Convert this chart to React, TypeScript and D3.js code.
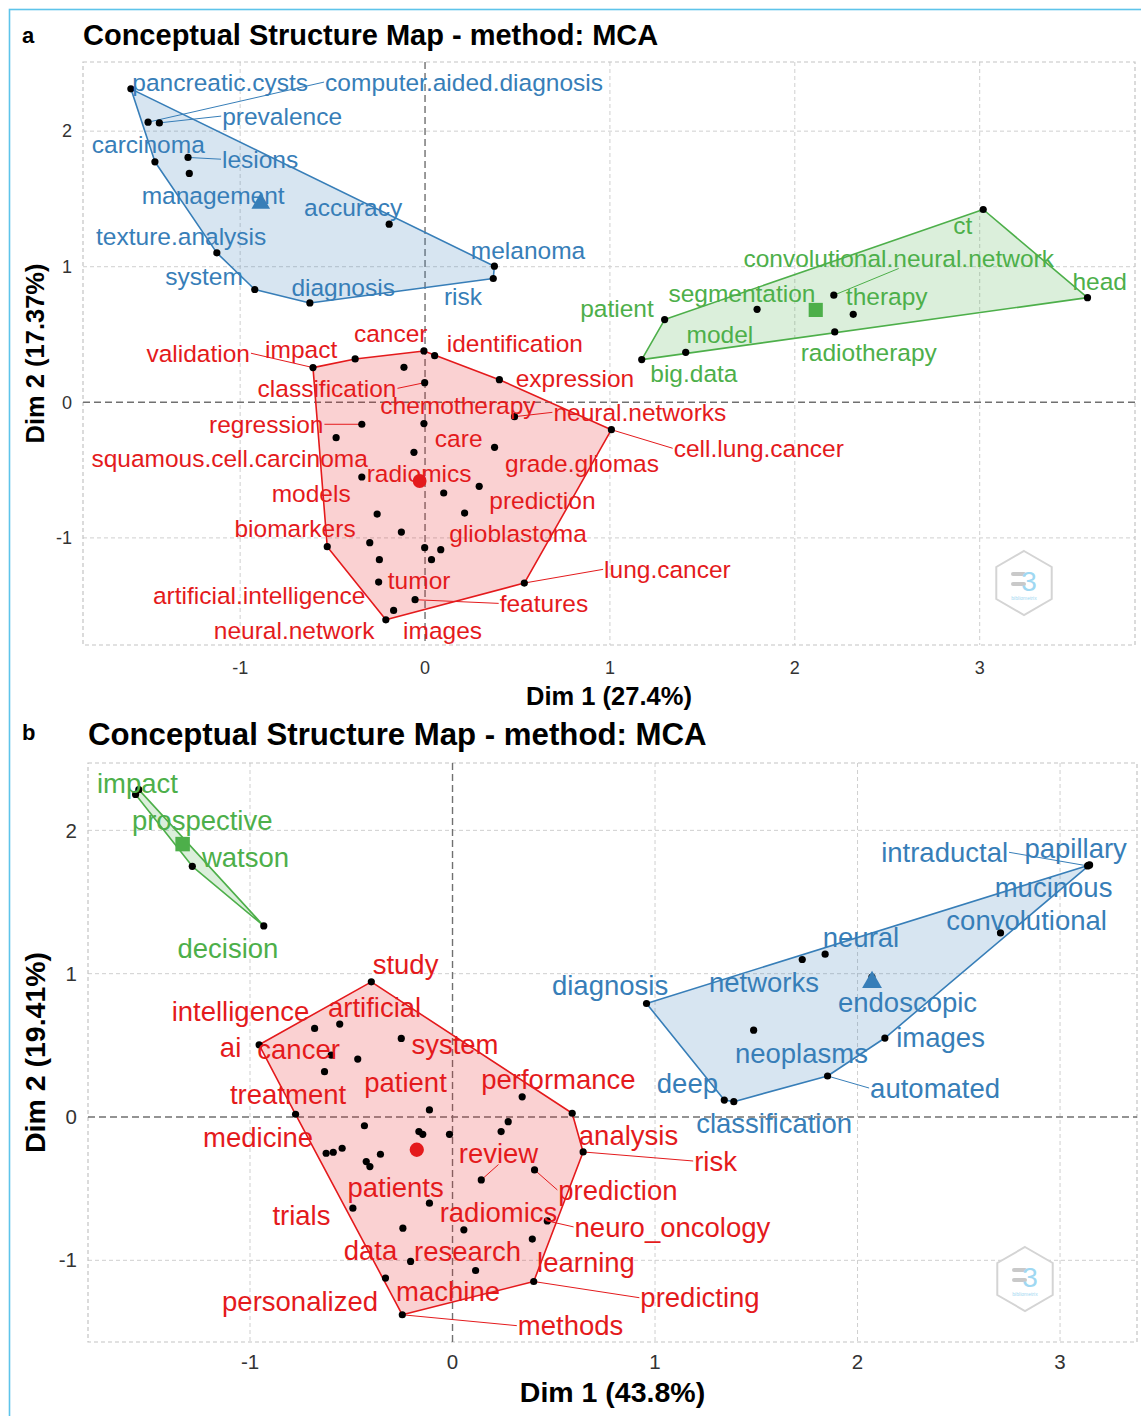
import React from 'react';
import * as d3 from 'd3';

type Row = [string | null, number, number, number | null, number | null];

// ---------- Panel a (Dim 1 27.4%, Dim 2 17.37%) ----------
// [word, dim1, dim2, labelDim1, labelDim2]
const aBlue: Row[] = [
  ['pancreatic.cysts', -1.591, 2.312, -1.108, 2.362],
  ['computer.aided.diagnosis', -1.498, 2.066, 0.211, 2.362],
  ['prevalence', -1.437, 2.061, -0.773, 2.111],
  ['carcinoma', -1.461, 1.774, -1.497, 1.904],
  ['lesions', -1.282, 1.806, -0.892, 1.793],
  ['management', -1.275, 1.688, -1.146, 1.528],
  ['accuracy', -0.194, 1.314, -0.389, 1.439],
  ['texture.analysis', -1.126, 1.102, -1.319, 1.225],
  ['system', -0.921, 0.832, -1.195, 0.93],
  ['diagnosis', -0.623, 0.733, -0.443, 0.849],
  ['melanoma', 0.375, 1.004, 0.557, 1.122],
  ['risk', 0.369, 0.913, 0.205, 0.782],
];

const aGreen: Row[] = [
  ['ct', 3.019, 1.422, 2.908, 1.306],
  ['head', 3.583, 0.772, 3.649, 0.893],
  ['patient', 1.296, 0.61, 1.038, 0.694],
  ['big.data', 1.172, 0.315, 1.454, 0.214],
  ['model', 1.41, 0.369, 1.595, 0.502],
  ['segmentation', 1.796, 0.686, 1.714, 0.804],
  ['convolutional.neural.network', 2.211, 0.79, 2.562, 1.063],
  ['therapy', 2.316, 0.649, 2.497, 0.782],
  ['radiotherapy', 2.216, 0.519, 2.4, 0.369],
];

const aRed: Row[] = [
  ['validation', -0.606, 0.256, -1.227, 0.362],
  ['impact', -0.378, 0.32, -0.67, 0.391],
  ['cancer', -0.006, 0.379, -0.186, 0.509],
  ['identification', 0.052, 0.344, 0.486, 0.435],
  [null, -0.114, 0.258, null, null],
  ['classification', -0.002, 0.145, -0.53, 0.103],
  ['expression', 0.402, 0.167, 0.811, 0.177],
  ['neural.networks', 0.484, -0.106, 1.162, -0.074],
  ['chemotherapy', -0.006, -0.157, 0.178, -0.022],
  ['cell.lung.cancer', 1.008, -0.202, 1.805, -0.339],
  ['regression', -0.342, -0.162, -0.859, -0.162],
  ['squamous.cell.carcinoma', -0.481, -0.261, -1.057, -0.413],
  ['care', -0.06, -0.369, 0.182, -0.266],
  ['grade.gliomas', 0.376, -0.332, 0.849, -0.45],
  ['models', -0.342, -0.551, -0.616, -0.672],
  ['radiomics', 0.101, -0.669, -0.032, -0.524],
  ['prediction', 0.293, -0.62, 0.635, -0.723],
  [null, -0.259, -0.824, null, null],
  ['glioblastoma', 0.214, -0.817, 0.503, -0.967],
  [null, -0.128, -0.957, null, null],
  ['biomarkers', -0.529, -1.065, -0.703, -0.93],
  [null, -0.299, -1.035, null, null],
  [null, -0.002, -1.072, null, null],
  [null, 0.085, -1.087, null, null],
  [null, 0.035, -1.161, null, null],
  ['tumor', -0.247, -1.161, -0.032, -1.314],
  ['artificial.intelligence', -0.251, -1.326, -0.897, -1.424],
  ['features', -0.054, -1.456, 0.643, -1.483],
  ['lung.cancer', 0.537, -1.333, 1.311, -1.232],
  ['images', -0.17, -1.535, 0.095, -1.683],
  ['neural.network', -0.212, -1.604, -0.708, -1.683],
];

const aLeaders = [
  'computer.aided.diagnosis', 'prevalence', 'lesions', 'convolutional.neural.network',
  'validation', 'classification', 'neural.networks', 'cell.lung.cancer', 'regression',
  'lung.cancer', 'features',
];

// ---------- Panel b (Dim 1 43.8%, Dim 2 19.41%) ----------
const bGreen: Row[] = [
  ['impact', -1.549, 2.284, -1.556, 2.328],
  ['prospective', -1.565, 2.251, -1.236, 2.07],
  ['watson', -1.285, 1.749, -1.022, 1.812],
  ['decision', -0.932, 1.333, -1.109, 1.178],
];

const bBlue: Row[] = [
  ['intraductal', 3.136, 1.752, 2.43, 1.847],
  ['papillary', 3.141, 1.756, 3.077, 1.875],
  ['mucinous', 3.146, 1.759, 2.968, 1.603],
  ['convolutional', 2.706, 1.284, 2.835, 1.373],
  ['neural', 1.84, 1.136, 2.017, 1.254],
  ['networks', 1.727, 1.099, 1.538, 0.941],
  ['endoscopic', 2.071, 0.976, 2.247, 0.801],
  ['diagnosis', 0.958, 0.792, 0.778, 0.92],
  ['neoplasms', 1.487, 0.606, 1.723, 0.446],
  ['images', 2.135, 0.551, 2.41, 0.557],
  ['automated', 1.852, 0.286, 2.383, 0.202],
  ['deep', 1.342, 0.118, 1.16, 0.237],
  ['classification', 1.389, 0.107, 1.588, -0.042],
];

const bRed: Row[] = [
  ['study', -0.401, 0.943, -0.232, 1.066],
  ['artificial', -0.557, 0.648, -0.385, 0.767],
  ['intelligence', -0.681, 0.618, -1.047, 0.739],
  ['ai', -0.955, 0.504, -1.096, 0.488],
  ['cancer', -0.599, 0.432, -0.76, 0.474],
  ['patient', -0.468, 0.404, -0.232, 0.244],
  ['system', -0.253, 0.548, 0.012, 0.509],
  ['treatment', -0.632, 0.316, -0.812, 0.16],
  ['medicine', -0.775, 0.019, -0.96, -0.139],
  [null, -0.114, 0.049, null, null],
  ['performance', 0.344, 0.141, 0.523, 0.265],
  ['analysis', 0.591, 0.026, 0.869, -0.125],
  [null, 0.275, -0.033, null, null],
  [null, 0.24, -0.102, null, null],
  [null, -0.435, -0.061, null, null],
  [null, -0.166, -0.102, null, null],
  [null, -0.147, -0.121, null, null],
  [null, -0.015, -0.121, null, null],
  ['risk', 0.645, -0.244, 1.299, -0.307],
  [null, -0.545, -0.218, null, null],
  [null, -0.589, -0.246, null, null],
  [null, -0.624, -0.253, null, null],
  [null, -0.356, -0.26, null, null],
  [null, -0.426, -0.311, null, null],
  [null, -0.408, -0.346, null, null],
  ['review', 0.142, -0.439, 0.227, -0.251],
  ['prediction', 0.405, -0.369, 0.817, -0.509],
  ['patients', -0.114, -0.601, -0.281, -0.488],
  ['trials', -0.492, -0.636, -0.746, -0.683],
  ['neuro_oncology', 0.468, -0.725, 1.086, -0.767],
  ['data', -0.245, -0.776, -0.405, -0.934],
  ['radiomics', 0.056, -0.787, 0.227, -0.669],
  ['learning', 0.394, -0.852, 0.659, -1.017],
  ['machine', -0.207, -1.008, -0.022, -1.22],
  ['research', 0.114, -1.071, 0.074, -0.941],
  ['personalized', -0.331, -1.124, -0.753, -1.289],
  ['predicting', 0.401, -1.148, 1.222, -1.261],
  ['methods', -0.248, -1.38, 0.583, -1.456],
];

const bLeaders = ['intraductal', 'automated', 'risk', 'review', 'prediction', 'neuro_oncology', 'predicting', 'methods'];

const xTicks = [-1, 0, 1, 2, 3];
const yTicks = [-1, 0, 1, 2];

const RED = '#E41A1C';
const BLUE = '#377EB8';
const GREEN = '#4DAF4A';
const FONT = '"Liberation Sans", Arial, Helvetica, sans-serif';

let _ctx: CanvasRenderingContext2D | null = null;
function measure(text: string, size: number, weight = 'normal') {
  if (!_ctx) _ctx = document.createElement('canvas').getContext('2d');
  if (!_ctx) return text.length * size * 0.5;
  _ctx.font = `${weight} ${size}px ${FONT}`;
  return _ctx.measureText(text).width;
}

type Cluster = { rows: Row[]; color: string; shape: d3.SymbolType; shapeSize: number };

type Cfg = {
  tag: string; tagY: number;
  title: string; titleX: number; titleY: number; titleSize: number;
  x0: number; x1: number; y0: number; y1: number;
  xDomain: [number, number]; yDomain: [number, number];
  tickSize: number; xTickY: number; yTickX: number;
  xTitle: string; xTitleY: number; yTitle: string; yTitleX: number; axisTitleSize: number;
  labelSize: number; logo: [number, number];
};

function Logo({ cx, cy }: { cx: number; cy: number }) {
  const r = 32;
  const pts = d3.range(6).map((k) => {
    const a = (-90 + 60 * k) * Math.PI / 180;
    return [cx + r * Math.cos(a), cy + r * Math.sin(a)];
  });
  return (
    <g>
      <polygon points={pts.map((p) => p.join(',')).join(' ')} fill="white" stroke="#d4d4d4" strokeWidth={2} />
      <rect x={cx - 13} y={cy - 11} width={15} height={4} rx={2} fill="#c9c9c9" />
      <rect x={cx - 13} y={cy - 1} width={15} height={4} rx={2} fill="#c9c9c9" />
      <text x={cx + 5} y={cy + 8} textAnchor="middle" fontFamily={FONT} fontSize={28} fill="#9fd8f2">3</text>
      <text x={cx} y={cy + 17} textAnchor="middle" fontFamily={FONT} fontSize={5} fill="#9fd8f2">bibliometrix</text>
    </g>
  );
}

function Panel({ cfg, clusters, leaders }: { cfg: Cfg; clusters: Cluster[]; leaders: string[] }) {
  const sx = d3.scaleLinear().domain(cfg.xDomain).range([cfg.x0, cfg.x1]);
  const sy = d3.scaleLinear().domain(cfg.yDomain).range([cfg.y1, cfg.y0]);
  const fs = cfg.labelSize;

  const hulls = clusters.map((c) => {
    const pts = c.rows.map((r) => [sx(r[1]), sy(r[2])] as [number, number]);
    const h = d3.polygonHull(pts);
    return h ? 'M' + h.map((p) => p.join(',')).join('L') + 'Z' : '';
  });

  const segs: JSX.Element[] = [];
  const labels: JSX.Element[] = [];
  clusters.forEach((c, ci) => {
    c.rows.forEach((r, ri) => {
      if (!r[0] || r[3] == null || r[4] == null) return;
      const cx = sx(r[3]);
      const cy = sy(r[4]);
      labels.push(
        <text key={`l${ci}-${ri}`} x={cx} y={cy} dy="0.35em" textAnchor="middle" fontFamily={FONT}
          fontSize={fs} fill={c.color}>{r[0]}</text>
      );
      if (leaders.includes(r[0])) {
        const w = measure(r[0], fs);
        const px = sx(r[1]);
        const py = sy(r[2]);
        const bx0 = cx - w / 2 - 1;
        const bx1 = cx + w / 2 + 1;
        let ex = cx, ey = cy;
        if (px < bx0) { ex = bx0; ey = cy; }
        else if (px > bx1) { ex = bx1; ey = cy; }
        else if (py < cy) { ex = cx; ey = cy - fs * 0.42; }
        else { ex = cx; ey = cy + fs * 0.42; }
        segs.push(<line key={`s${ci}-${ri}`} x1={px} y1={py} x2={ex} y2={ey} stroke={c.color} strokeWidth={1} />);
      }
    });
  });

  return (
    <g fontFamily={FONT}>
      {xTicks.filter((t) => t !== 0).map((t) => (
        <line key={`gx${t}`} x1={sx(t)} x2={sx(t)} y1={cfg.y0} y2={cfg.y1} stroke="#cfcfcf" strokeWidth={1} strokeDasharray="4 3" />
      ))}
      {yTicks.filter((t) => t !== 0).map((t) => (
        <line key={`gy${t}`} x1={cfg.x0} x2={cfg.x1} y1={sy(t)} y2={sy(t)} stroke="#cfcfcf" strokeWidth={1} strokeDasharray="4 3" />
      ))}
      <rect x={cfg.x0} y={cfg.y0} width={cfg.x1 - cfg.x0} height={cfg.y1 - cfg.y0} fill="none" stroke="#c4c4c4" strokeWidth={1.2} strokeDasharray="4 3" />
      <line x1={sx(0)} x2={sx(0)} y1={cfg.y0} y2={cfg.y1} stroke="#707070" strokeWidth={1.4} strokeDasharray="7 4" />
      <line x1={cfg.x0} x2={cfg.x1} y1={sy(0)} y2={sy(0)} stroke="#707070" strokeWidth={1.4} strokeDasharray="7 4" />

      {clusters.map((c, i) => (
        <path key={`h${i}`} d={hulls[i]} fill={c.color} fillOpacity={0.2} stroke={c.color} strokeWidth={1.6} strokeLinejoin="round" />
      ))}
      {segs}
      {clusters.map((c, i) => (
        <g key={`p${i}`}>
          {c.rows.map((r, j) => (
            <circle key={j} cx={sx(r[1])} cy={sy(r[2])} r={3.6} fill="#000" />
          ))}
        </g>
      ))}
      {clusters.map((c, i) => {
        const mx = d3.mean(c.rows, (r) => r[1]) as number;
        const my = d3.mean(c.rows, (r) => r[2]) as number;
        const path = d3.symbol().type(c.shape).size(c.shapeSize)() || '';
        return <path key={`c${i}`} d={path} transform={`translate(${sx(mx)},${sy(my)})`} fill={c.color} />;
      })}
      {labels}
      <Logo cx={cfg.logo[0]} cy={cfg.logo[1]} />

      {xTicks.map((t) => (
        <text key={`tx${t}`} x={sx(t)} y={cfg.xTickY} dy="0.35em" textAnchor="middle" fontSize={cfg.tickSize} fill="#333">{t}</text>
      ))}
      {yTicks.map((t) => (
        <text key={`ty${t}`} x={cfg.yTickX} y={sy(t)} dy="0.35em" textAnchor="end" fontSize={cfg.tickSize} fill="#333">{t}</text>
      ))}
      <text x={(cfg.x0 + cfg.x1) / 2} y={cfg.xTitleY} dy="0.35em" textAnchor="middle" fontWeight="bold" fontSize={cfg.axisTitleSize} fill="#000">{cfg.xTitle}</text>
      <text transform={`translate(${cfg.yTitleX},${(cfg.y0 + cfg.y1) / 2}) rotate(-90)`} dy="0.35em" textAnchor="middle" fontWeight="bold" fontSize={cfg.axisTitleSize} fill="#000">{cfg.yTitle}</text>
      <text x={cfg.titleX} y={cfg.titleY} fontWeight="bold" fontSize={cfg.titleSize} fill="#000">{cfg.title}</text>
      <text x={22} y={cfg.tagY} fontWeight="bold" fontSize={22} fill="#000">{cfg.tag}</text>
    </g>
  );
}

const cfgA: Cfg = {
  tag: 'a', tagY: 43,
  title: 'Conceptual Structure Map - method: MCA', titleX: 83, titleY: 45, titleSize: 29,
  x0: 83, x1: 1135, y0: 62, y1: 645,
  xDomain: [-1.85, 3.84], yDomain: [-1.79, 2.51],
  tickSize: 18, xTickY: 667.5, yTickX: 72,
  xTitle: 'Dim 1 (27.4%)', xTitleY: 696, yTitle: 'Dim 2 (17.37%)', yTitleX: 35, axisTitleSize: 25.5,
  labelSize: 24.5, logo: [1024, 583],
};

const cfgB: Cfg = {
  tag: 'b', tagY: 740,
  title: 'Conceptual Structure Map - method: MCA', titleX: 88, titleY: 745, titleSize: 31.2,
  x0: 88, x1: 1137, y0: 763, y1: 1342,
  xDomain: [-1.8, 3.38], yDomain: [-1.57, 2.47],
  tickSize: 20.5, xTickY: 1362, yTickX: 77,
  xTitle: 'Dim 1 (43.8%)', xTitleY: 1392, yTitle: 'Dim 2 (19.41%)', yTitleX: 35, axisTitleSize: 28.5,
  labelSize: 27.5, logo: [1025, 1279],
};

export default function App() {
  const clustersA: Cluster[] = [
    { rows: aBlue, color: BLUE, shape: d3.symbolTriangle, shapeSize: 150 },
    { rows: aGreen, color: GREEN, shape: d3.symbolSquare, shapeSize: 200 },
    { rows: aRed, color: RED, shape: d3.symbolCircle, shapeSize: 150 },
  ];
  const clustersB: Cluster[] = [
    { rows: bGreen, color: GREEN, shape: d3.symbolSquare, shapeSize: 210 },
    { rows: bBlue, color: BLUE, shape: d3.symbolTriangle, shapeSize: 170 },
    { rows: bRed, color: RED, shape: d3.symbolCircle, shapeSize: 160 },
  ];
  return (
    <svg width={1141} height={1416} style={{ position: 'absolute', left: 0, top: 0, background: '#fff' }}>
      <rect x={0} y={0} width={1141} height={1416} fill="#fff" />
      <rect x={9.5} y={9.5} width={1150} height={1430} fill="none" stroke="#5EC4EA" strokeWidth={1.6} />
      <Panel cfg={cfgA} clusters={clustersA} leaders={aLeaders} />
      <Panel cfg={cfgB} clusters={clustersB} leaders={bLeaders} />
    </svg>
  );
}
